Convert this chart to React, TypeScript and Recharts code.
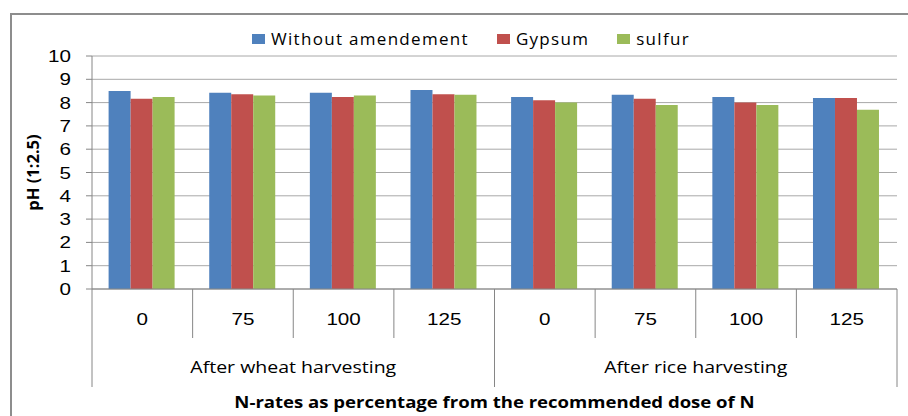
import React from "react";
import { Bar, BarChart, CartesianGrid, Label, Legend, XAxis, YAxis } from "recharts";

// N rate (% of recommended dose) for each bar group
const rates = ["0", "75", "100", "125", "0", "75", "100", "125"];
const seasons = [
  "After wheat harvesting",
  "After wheat harvesting",
  "After wheat harvesting",
  "After wheat harvesting",
  "After rice harvesting",
  "After rice harvesting",
  "After rice harvesting",
  "After rice harvesting",
];

// pH (1:2.5)
const withoutAmendement = [8.5, 8.42, 8.42, 8.54, 8.24, 8.34, 8.24, 8.2];
const gypsum = [8.16, 8.36, 8.24, 8.36, 8.1, 8.16, 8.0, 8.2];
const sulfur = [8.24, 8.31, 8.31, 8.34, 8.0, 7.9, 7.9, 7.69];

const seriesNames = ["Without amendement", "Gypsum", "sulfur"];
const yTicks = [0, 1, 2, 3, 4, 5, 6, 7, 8, 9, 10];

const data = rates.map((rate, i) => ({
  key: `${seasons[i]}-${rate}`,
  rate,
  season: seasons[i],
  without: withoutAmendement[i],
  gypsum: gypsum[i],
  sulfur: sulfur[i],
}));

const COLORS = ["#4F81BD", "#C0504D", "#9BBB59"];
const AXIS = "#868686";
const GRID = "#A8A8A8";
const DIGIT_FONT = "'Liberation Sans', Arial, sans-serif";
const TEXT_FONT = "'Open Sans', sans-serif";
const ROW = 49;

const ValueTick = (props: any) => {
  const { x, y, payload } = props;
  return (
    <text
      transform={`translate(${x},${y + 6}) scale(1.25,1)`}
      textAnchor="end"
      fontFamily={DIGIT_FONT}
      fontSize={16.5}
      fill="#000"
    >
      {payload.value}
    </text>
  );
};

const RateTick = (props: any) => {
  const { x, y, payload, index, visibleTicksCount } = props;
  const half = payload?.offset ?? 0;
  return (
    <g>
      <line x1={x - half} y1={y} x2={x - half} y2={y + ROW} stroke={AXIS} />
      {index === visibleTicksCount - 1 && (
        <line x1={x + half} y1={y} x2={x + half} y2={y + ROW} stroke={AXIS} />
      )}
      <text
        transform={`translate(${x},${y + 36}) scale(1.25,1)`}
        textAnchor="middle"
        fontFamily={DIGIT_FONT}
        fontSize={16.5}
        fill="#000"
      >
        {rates[index]}
      </text>
    </g>
  );
};

const SeasonTick = (props: any) => {
  const { x, y, payload, index, visibleTicksCount } = props;
  const half = payload?.offset ?? 0;
  const season = seasons[index];
  const members = seasons
    .map((s, i) => (s === season ? i : -1))
    .filter((i) => i >= 0);
  const isFirst = members[0] === index;
  const isLabel = members[Math.floor(members.length / 2)] === index;
  const labelX = members.length % 2 === 0 ? x - half : x;
  return (
    <g>
      {isFirst && (
        <line x1={x - half} y1={y} x2={x - half} y2={y + ROW} stroke={AXIS} />
      )}
      {index === visibleTicksCount - 1 && (
        <line x1={x + half} y1={y} x2={x + half} y2={y + ROW} stroke={AXIS} />
      )}
      {isLabel && (
        <text
          transform={`translate(${labelX},${y + 35}) scale(1.22,1)`}
          textAnchor="middle"
          fontFamily={TEXT_FONT}
          fontSize={16}
          fill="#000"
        >
          {season}
        </text>
      )}
    </g>
  );
};

const LegendContent = () => (
  <div
    style={{
      display: "flex",
      alignItems: "center",
      fontFamily: TEXT_FONT,
      fontSize: 17,
      letterSpacing: 1.3,
      lineHeight: "20px",
      color: "#000",
      whiteSpace: "nowrap",
    }}
  >
    {seriesNames.map((name, i) => (
      <div key={name} style={{ display: "flex", alignItems: "center", marginRight: 28 }}>
        <span
          style={{ display: "inline-block", width: 13, height: 10, background: COLORS[i], marginRight: 6 }}
        />
        <span>{name}</span>
      </div>
    ))}
  </div>
);

export default function App() {
  return (
    <div
      style={{
        position: "absolute",
        left: 0,
        top: 0,
        width: 908,
        height: 416,
        overflow: "hidden",
        background: "#fff",
      }}
    >
      <div
        style={{
          position: "absolute",
          left: 10,
          top: 13,
          width: 960,
          height: 500,
          border: "2px solid #8D8D8D",
        }}
      />
      <div style={{ position: "absolute", left: 0, top: 0 }}>
        <BarChart
          width={908}
          height={416}
          data={data}
          margin={{ top: 56, right: 11, bottom: 29, left: 0 }}
          barCategoryGap="16.5%"
          barGap={0}
        >
          <CartesianGrid vertical={false} stroke={GRID} />
          <XAxis
            dataKey="key"
            interval={0}
            height={ROW}
            tickSize={0}
            tickMargin={0}
            tickLine={false}
            axisLine={{ stroke: AXIS }}
            tick={<RateTick />}
          />
          <XAxis
            xAxisId="season"
            dataKey="key"
            interval={0}
            height={ROW}
            tickSize={0}
            tickMargin={0}
            tickLine={false}
            axisLine={false}
            tick={<SeasonTick />}
          >
            <Label
              content={(p: any) => {
                const vb = p.viewBox || {};
                return (
                  <text
                    transform={`translate(${vb.x + vb.width / 2},${vb.y + vb.height + 21}) scale(1.16,1)`}
                    textAnchor="middle"
                    fontFamily={TEXT_FONT}
                    fontWeight="bold"
                    fontSize={16}
                    fill="#000"
                  >
                    N-rates as percentage from the recommended dose of N
                  </text>
                );
              }}
            />
          </XAxis>
          <YAxis
            type="number"
            domain={[0, 10]}
            ticks={yTicks}
            interval={0}
            width={92}
            axisLine={{ stroke: AXIS }}
            tickLine={{ stroke: AXIS }}
            tickSize={6}
            tickMargin={15}
            tick={<ValueTick />}
          >
            <Label
              content={(p: any) => {
                const vb = p.viewBox || {};
                return (
                  <text
                    transform={`translate(${vb.x + 32},${vb.y + vb.height / 2}) rotate(-90)`}
                    textAnchor="middle"
                    dominantBaseline="central"
                    fontFamily={TEXT_FONT}
                    fontWeight="bold"
                    fontSize={16.5}
                    fill="#000"
                  >
                    pH (1:2.5)
                  </text>
                );
              }}
            />
          </YAxis>
          <Legend
            verticalAlign="middle"
            align="center"
            layout="horizontal"
            wrapperStyle={{ top: 29, left: 252, width: "auto" }}
            content={<LegendContent />}
          />
          <Bar dataKey="without" name={seriesNames[0]} fill={COLORS[0]} isAnimationActive={false} />
          <Bar dataKey="gypsum" name={seriesNames[1]} fill={COLORS[1]} isAnimationActive={false} />
          <Bar dataKey="sulfur" name={seriesNames[2]} fill={COLORS[2]} isAnimationActive={false} />
        </BarChart>
      </div>
    </div>
  );
}
